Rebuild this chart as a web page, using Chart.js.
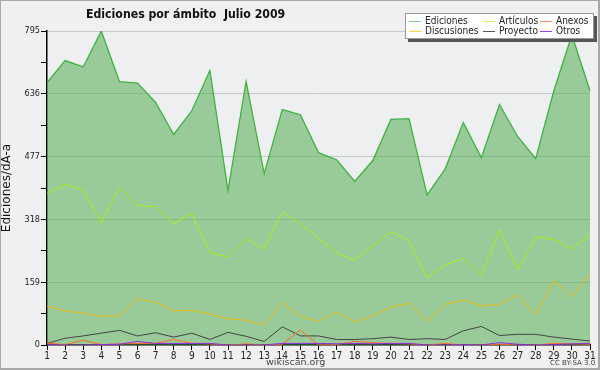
<!DOCTYPE html>
<html>
<head>
<meta charset="utf-8">
<script src="https://cdn.jsdelivr.net/npm/chart.js@4.4.0/dist/chart.umd.min.js"></script>
<style>
  html,body{margin:0;padding:0;background:#f0f0f0;}
  #wrap{position:relative;width:600px;height:370px;box-sizing:border-box;border:1px solid #a8a8a8;border-right-width:2px;border-bottom-width:2px;background:#f0f0f0;overflow:hidden;}
  #c{position:absolute;left:-1px;top:-1px;}
  .t{position:absolute;white-space:pre;font-family:"DejaVu Sans Condensed","DejaVu Sans",sans-serif;}
  #title{left:85px;top:6px;font-weight:bold;font-size:12.2px;color:#111;}
  #legend{position:absolute;left:404px;top:12px;width:187px;height:24px;background:#fff;border:1px solid #999;box-shadow:3px 3px 0 #555;}
  .li{position:absolute;font-family:"DejaVu Sans Condensed","DejaVu Sans",sans-serif;font-size:10px;color:#222;white-space:pre;line-height:10px;}
  .ln{position:absolute;height:1px;width:12px;}
  #foot{left:265px;top:355px;font-size:9.5px;color:#444;font-family:"DejaVu Sans",sans-serif;}
  #cc{left:549px;top:358px;font-size:7px;color:#444;font-family:"DejaVu Sans",sans-serif;}
</style>
</head>
<body>
<div id="wrap">
  <canvas id="c" width="600" height="370"></canvas>
  <div class="t" id="title">Ediciones por ámbito  Julio 2009</div>
  <div id="legend"></div>
  <div class="t" id="foot">wikiscan.org</div>
  <div class="t" id="cc">CC BY-SA 3.0</div>
</div>
<script>
const days = ["1","2","3","4","5","6","7","8","9","10","11","12","13","14","15","16","17","18","19","20","21","22","23","24","25","26","27","28","29","30","31"];
const ediciones   = [664,720,704,795,667,663,614,533,593,695,391,667,434,596,583,487,469,414,467,571,573,380,446,563,474,609,528,472,643,785,643];
const articulos   = [384,406,393,309,399,353,350,307,333,234,223,269,243,337,307,270,233,215,251,287,264,171,202,220,175,292,190,274,267,243,281];
const anexos      = [5,1,12,1,3,4,4,14,4,3,0,3,0,2,38,0,1,9,6,4,3,0,4,0,0,2,0,0,4,3,2];
const discusiones = [98,86,81,73,73,117,108,86,88,79,66,63,50,108,72,60,83,58,74,96,106,60,103,114,99,103,127,78,163,122,180];
const proyecto    = [4,17,23,30,37,23,31,20,30,14,32,22,9,46,23,23,14,14,16,20,14,16,14,36,47,24,27,27,20,15,10];
const otros       = [1,0,0,1,2,9,4,4,4,4,0,0,0,4,4,4,3,4,3,4,4,0,0,1,0,6,2,0,1,3,4];
const yMajorTicks = [0,159,318,477,636,795];

const series = [
  {label:"Ediciones",   data:ediciones,   color:"#3fb23f", order:10, fill:true, width:1.3},
  {label:"Artículos",   data:articulos,   color:"#aaee11", order:5, width:1},
  {label:"Anexos",      data:anexos,      color:"#ff6a22", order:2, width:1},
  {label:"Discusiones", data:discusiones, color:"#f0c010", order:4, width:1},
  {label:"Proyecto",    data:proyecto,    color:"#444444", order:3, width:1},
  {label:"Otros",       data:otros,       color:"#8a2be2", order:1, width:1}
];

// HTML legend
const lg = document.getElementById('legend');
const cols = [3, 77, 134], rows = [2, 12];
const legendColors = {"Ediciones":"#88cc88","Artículos":"#ccee66","Anexos":"#ff8855","Discusiones":"#ffd040","Proyecto":"#555","Otros":"#9944ee"};
series.forEach((s,i)=>{
  const c = i%3, r = Math.floor(i/3);
  const ln = document.createElement('div'); ln.className='ln';
  ln.style.left=cols[c]+'px'; ln.style.top=(rows[r]+5)+'px'; ln.style.background=legendColors[s.label];
  const tx = document.createElement('div'); tx.className='li';
  tx.style.left=(cols[c]+16)+'px'; tx.style.top=rows[r]+'px'; tx.textContent=s.label;
  lg.appendChild(ln); lg.appendChild(tx);
});

const bgPlugin = {
  id:'plotbg',
  beforeDraw(chart){
    const {ctx, chartArea:a} = chart;
    ctx.save(); ctx.fillStyle='#eeeff1';
    ctx.fillRect(a.left, a.top, a.right-a.left, a.bottom-a.top);
    ctx.restore();
  }
};

const isMajor = v => yMajorTicks.some(m => Math.abs(m - v) < 1e-6);

new Chart(document.getElementById('c'), {
  type:'line',
  data:{
    labels:days,
    datasets:series.map(s=>({
      label:s.label, data:s.data, borderColor:s.color, borderWidth:s.width,
      backgroundColor: s.fill ? 'rgba(68,168,68,0.5)' : s.color,
      fill: s.fill ? 'origin' : false, order:s.order,
      pointRadius:0, tension:0
    }))
  },
  options:{
    responsive:false, animation:false,
    layout:{padding:{top:31, right:10, left:0, bottom:0}},
    plugins:{legend:{display:false}, title:{display:false}, tooltip:{enabled:false}},
    scales:{
      x:{
        offset:false,
        grid:{display:true, drawOnChartArea:false, tickLength:5, color:'#000', tickColor:'#000'},
        border:{display:true, color:'#000', width:1.5},
        ticks:{color:'#222', font:{family:'"DejaVu Sans Condensed","DejaVu Sans"', size:10}, padding:0, maxRotation:0, autoSkip:false},
        afterFit(scale){ scale.height = 25; }
      },
      y:{
        min:0, max:795,
        afterBuildTicks(scale){
          const t=[]; for(let i=0;i<=10;i++) t.push({value: i*79.5});
          scale.ticks=t;
        },
        grid:{
          tickLength:6,
          color:(ctx)=> (ctx.tick && isMajor(ctx.tick.value) && ctx.tick.value>0) ? '#c8c8c8' : 'rgba(0,0,0,0)',
          tickColor:'#000'
        },
        border:{display:true, color:'#000', width:1.5},
        ticks:{
          color:'#222', font:{family:'"DejaVu Sans Condensed","DejaVu Sans"', size:9}, padding:1,
          callback:(v)=> isMajor(v) ? String(Math.round(v)) : ''
        },
        title:{display:true, text:'Ediciones/dÃ-a', color:'#111', font:{family:'"DejaVu Sans"', size:12}, padding:{top:0,bottom:0}},
        afterFit(scale){ scale.width = 47; }
      }
    }
  },
  plugins:[bgPlugin]
});
</script>
</body>
</html>
